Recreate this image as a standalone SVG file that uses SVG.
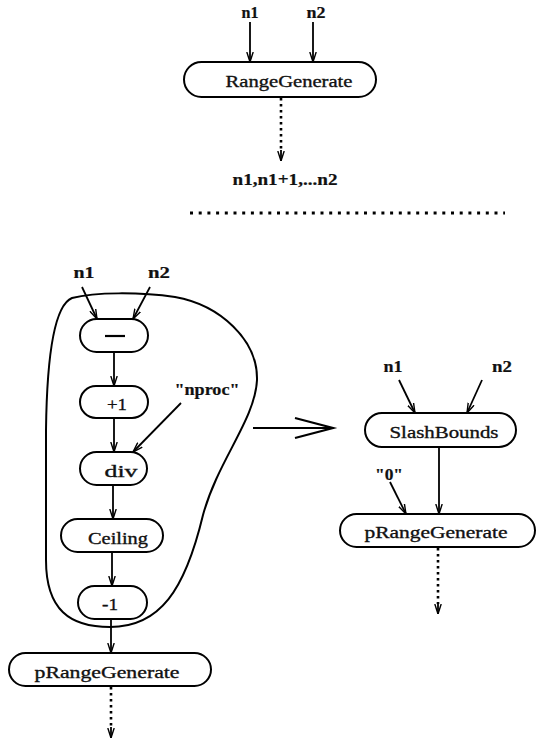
<svg xmlns="http://www.w3.org/2000/svg" width="536" height="745" viewBox="0 0 536 745">
  <defs>
    <marker id="ah" viewBox="0 0 10 8" refX="10" refY="4" markerWidth="10" markerHeight="8" markerUnits="userSpaceOnUse" orient="auto">
      <path d="M0,0.8 L10,4 L0,7.2" fill="none" stroke="#000" stroke-width="1.4"/>
    </marker>
  </defs>
  <style>
    text { font-family: "Liberation Serif", "Times New Roman", serif; font-size: 17px; fill: #111; stroke: #111; stroke-width: 0.35; text-anchor: middle; }
    .b { font-weight: bold; stroke-width: 0.2; }
    .box { fill: #fff; stroke: #000; stroke-width: 2; }
    .edge { fill: none; stroke: #000; stroke-width: 1.8; marker-end: url(#ah); }
    .dot { fill: none; stroke: #000; stroke-width: 2.6; stroke-dasharray: 2.4 3.6; }
  </style>

  <!-- separator between the two parts -->
  <line x1="190" y1="213" x2="505" y2="213" stroke="#000" stroke-width="3" stroke-dasharray="3 5.7"/>

  <!-- region enclosing the bounds computation -->
  <path id="region" d="M72,298 C55,305 47,350 46,430 L46,560 C46,610 70,627 110,627 C160,627 185,590 203,515 C218,460 255,420 257,380 C258,340 220,305 175,297 C140,292 95,292 72,298 Z" fill="none" stroke="#000" stroke-width="2"/>

  <!-- transformation arrow -->
  <g id="rewrite" fill="none" stroke="#000" stroke-width="2.2">
    <line x1="253" y1="428" x2="332" y2="428"/>
    <polyline points="295,418 333,428 295,438"/>
  </g>

  <g id="connectors">
    <!-- top -->
    <line class="edge" x1="250" y1="22" x2="250" y2="62"/>
    <line class="edge" x1="313" y1="22" x2="313" y2="62"/>
    <line class="dot" x1="281" y1="98" x2="281" y2="152"/>
    <line class="edge" x1="281" y1="150" x2="281" y2="161"/>
    <!-- left -->
    <line class="edge" x1="82" y1="287" x2="97" y2="319"/>
    <line class="edge" x1="150" y1="287" x2="133" y2="319"/>
    <line class="edge" x1="114" y1="352" x2="114" y2="386"/>
    <line class="edge" x1="114" y1="418" x2="114" y2="452"/>
    <line class="edge" x1="181" y1="403" x2="133" y2="452"/>
    <line class="edge" x1="113" y1="485" x2="113" y2="519"/>
    <line class="edge" x1="112" y1="552" x2="112" y2="586"/>
    <line class="edge" x1="111" y1="619" x2="111" y2="653"/>
    <line class="dot" x1="111" y1="687" x2="111" y2="728"/>
    <line class="edge" x1="111" y1="727" x2="111" y2="738"/>
    <!-- right -->
    <line class="edge" x1="399" y1="380" x2="415" y2="413"/>
    <line class="edge" x1="482" y1="380" x2="467" y2="413"/>
    <line class="edge" x1="439" y1="447" x2="439" y2="514"/>
    <line class="edge" x1="390" y1="482" x2="406" y2="514"/>
    <line class="dot" x1="438" y1="548" x2="438" y2="604"/>
    <line class="edge" x1="438" y1="603" x2="438" y2="614"/>
  </g>

  <!-- top part -->
  <text class="b" x="250" y="18" textLength="17" lengthAdjust="spacingAndGlyphs">n1</text>
  <text class="b" x="316" y="18" textLength="19" lengthAdjust="spacingAndGlyphs">n2</text>
  <g id="rangegenerate">
    <rect class="box" x="184" y="62" width="192" height="35" rx="17.5"/>
    <text x="289" y="87" textLength="127" lengthAdjust="spacingAndGlyphs">RangeGenerate</text>
  </g>
  <text class="b" x="285" y="185" textLength="105" lengthAdjust="spacingAndGlyphs">n1,n1+1,...n2</text>

  <!-- left part -->
  <text class="b" x="84" y="278" textLength="21" lengthAdjust="spacingAndGlyphs">n1</text>
  <text class="b" x="159" y="278" textLength="22" lengthAdjust="spacingAndGlyphs">n2</text>
  <g id="minus">
    <rect class="box" x="80" y="319" width="68" height="33" rx="16.5"/>
    <line x1="105" y1="336" x2="125" y2="336" stroke="#000" stroke-width="2.2"/>
  </g>
  <g id="plus1">
    <rect class="box" x="80" y="386" width="68" height="32" rx="16"/>
    <text x="117" y="410" textLength="20" lengthAdjust="spacingAndGlyphs">+1</text>
  </g>
  <text class="b" x="207" y="395" textLength="65" lengthAdjust="spacingAndGlyphs">"nproc"</text>
  <g id="div">
    <rect class="box" x="80" y="452" width="67" height="33" rx="16.5"/>
    <text x="121" y="477" textLength="33" lengthAdjust="spacingAndGlyphs">div</text>
  </g>
  <g id="ceiling">
    <rect class="box" x="61" y="519" width="102" height="33" rx="16.5"/>
    <text x="118" y="544" textLength="60" lengthAdjust="spacingAndGlyphs">Ceiling</text>
  </g>
  <g id="minus1">
    <rect class="box" x="78" y="586" width="69" height="33" rx="16.5"/>
    <text x="110" y="610" textLength="16" lengthAdjust="spacingAndGlyphs">-1</text>
  </g>
  <g id="prangegenerate-left">
    <rect class="box" x="9" y="653" width="202" height="33" rx="16.5"/>
    <text x="107" y="678" textLength="145" lengthAdjust="spacingAndGlyphs">pRangeGenerate</text>
  </g>

  <!-- right part -->
  <text class="b" x="393" y="372" textLength="19" lengthAdjust="spacingAndGlyphs">n1</text>
  <text class="b" x="502" y="372" textLength="20" lengthAdjust="spacingAndGlyphs">n2</text>
  <g id="slashbounds">
    <rect class="box" x="365" y="413" width="151" height="34" rx="17"/>
    <text x="444" y="438" textLength="109" lengthAdjust="spacingAndGlyphs">SlashBounds</text>
  </g>
  <text class="b" x="389" y="480" textLength="28" lengthAdjust="spacingAndGlyphs">"0"</text>
  <g id="prangegenerate-right">
    <rect class="box" x="340" y="514" width="195" height="33" rx="16.5"/>
    <text x="436" y="538" textLength="143" lengthAdjust="spacingAndGlyphs">pRangeGenerate</text>
  </g>
</svg>
